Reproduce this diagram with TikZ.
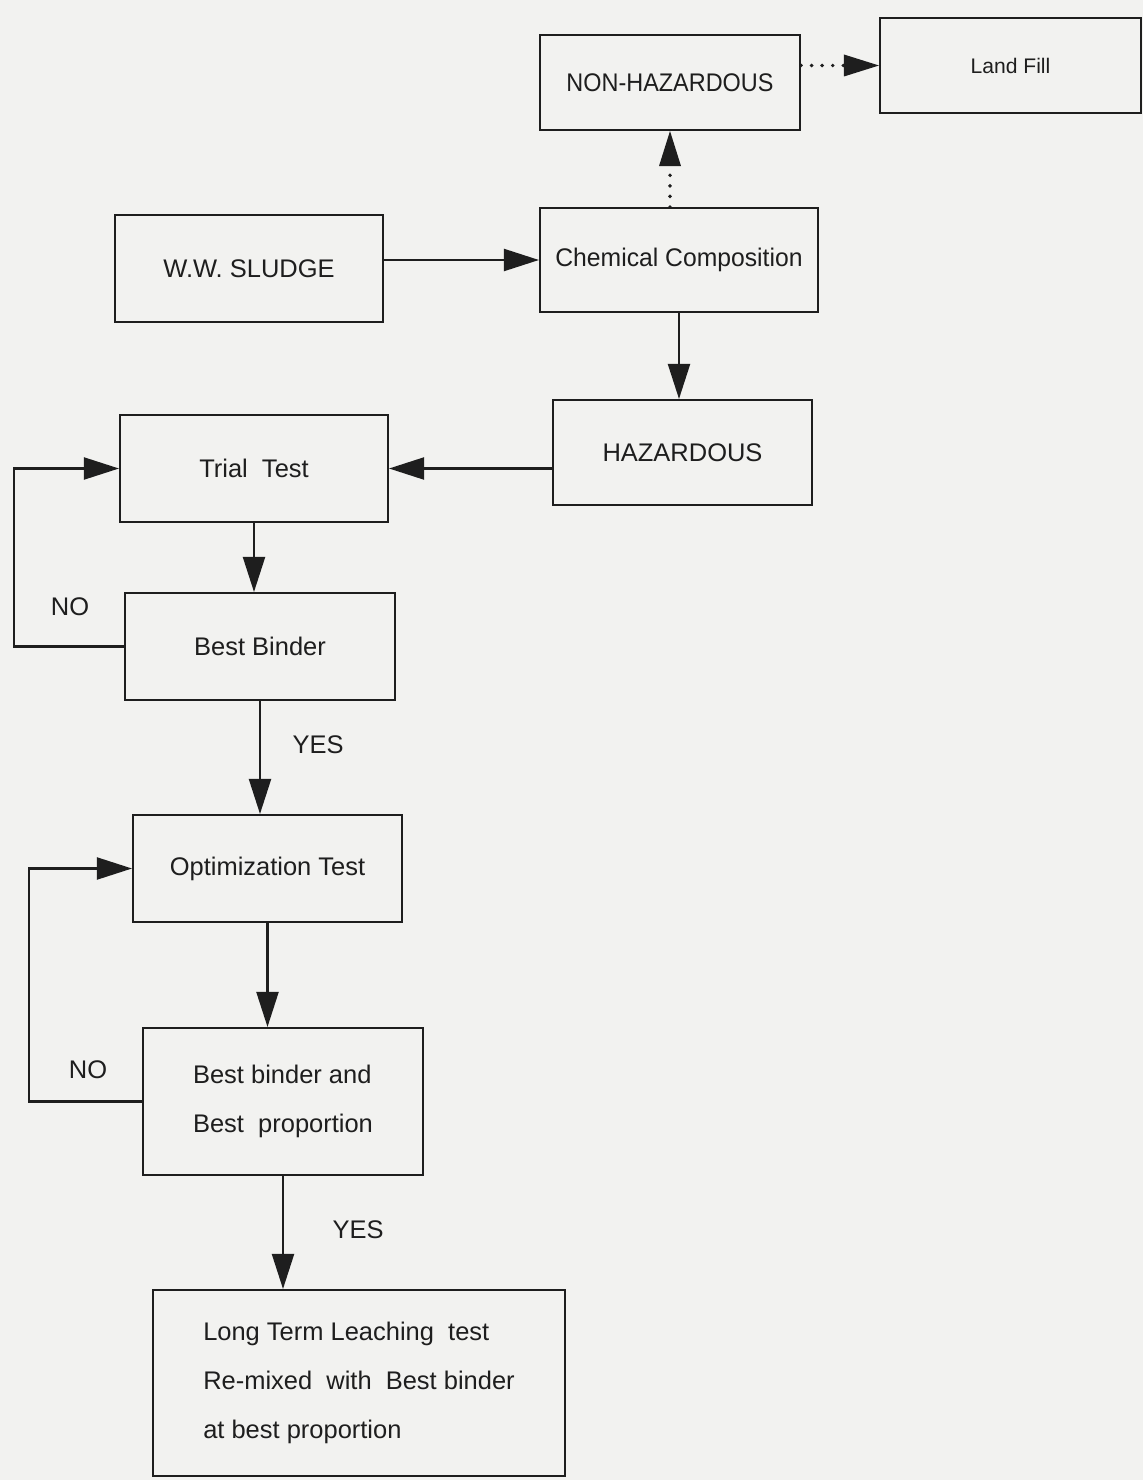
\documentclass[tikz,border=0pt]{standalone}
\usepackage{fontspec}
\setmainfont{Liberation Sans}
\usetikzlibrary{arrows.meta}
\definecolor{paper}{RGB}{242,242,240}
\definecolor{ink}{RGB}{30,30,30}
\begin{document}
\begin{tikzpicture}[x=0.02cm,y=-0.02cm,
  box/.style={draw=ink,line width=1.2pt,inner sep=0pt,rectangle,font=\fontsize{14.5}{28}\selectfont,text=ink},
  arr/.style={draw=ink,line width=1.2pt,-{Triangle[length=0.7cm,width=0.44cm]}},
  dotarr/.style={draw=ink,line width=2.2pt,dash pattern=on 0pt off 6pt,line cap=round,-{Triangle[length=0.7cm,width=0.44cm,line width=0pt]}},
  lbl/.style={font=\fontsize{14.5}{16}\selectfont,text=ink}]
\fill[paper] (0,0) rectangle (1143,1480);
\useasboundingbox (0,0) rectangle (1143,1480);
% boxes
\node[box,minimum width=260*0.02cm,minimum height=95*0.02cm] (nonhaz) at (670,82.5) {\scalebox{0.92}[1]{NON-HAZARDOUS}};
\node[box,minimum width=261*0.02cm,minimum height=95*0.02cm,font=\fontsize{12}{14}\selectfont] (landfill) at (1010.5,65.5) {Land Fill};
\node[box,minimum width=278*0.02cm,minimum height=104*0.02cm] (chem) at (679,260) {\scalebox{0.97}[1]{Chemical Composition}};
\node[box,minimum width=268*0.02cm,minimum height=107*0.02cm] (ww) at (249,268.5) {W.W. SLUDGE};
\node[box,minimum width=259*0.02cm,minimum height=105*0.02cm] (haz) at (682.5,452.5) {HAZARDOUS};
\node[box,minimum width=268*0.02cm,minimum height=107*0.02cm] (trial) at (254,468.5) {Trial\ \ Test};
\node[box,minimum width=270*0.02cm,minimum height=107*0.02cm] (best) at (260,646.5) {Best Binder};
\node[box,minimum width=269*0.02cm,minimum height=107*0.02cm] (opt) at (267.5,868.5) {Optimization Test};
\node[box,minimum width=280*0.02cm,minimum height=147*0.02cm,align=left] (bb) at (283,1101.5) {Best binder and\\Best\ \ proportion};
\node[box,minimum width=412*0.02cm,minimum height=186*0.02cm,align=left] (long) at (359,1383) {Long Term Leaching\ \ test\\Re-mixed\ \ with\ \ Best binder\\at best proportion};
% connectors
\draw[arr] (ww.east |- chem.west) -- (chem.west);
\draw[dotarr] (chem.north -| nonhaz.south) -- (nonhaz.south);
\draw[dotarr] (nonhaz.east |- landfill.west) -- (landfill.west);
\draw[arr] (chem.south) -- (chem.south |- haz.north);
\draw[arr] (haz.west |- trial.east) -- (trial.east);
\draw[arr] (trial.south) -- (trial.south |- best.north);
\draw[arr] (best.west) -- ++(-110,0) |- (trial.west);
\draw[arr] (best.south) -- (best.south |- opt.north);
\draw[arr] (opt.south) -- (opt.south |- bb.north);
\draw[arr] (bb.west) -- ++(-113,0) |- (opt.west);
\draw[arr] (bb.south) -- (bb.south |- long.north);
% labels
\node[lbl] (no1) at (70,607) {NO};
\node[lbl] (yes1) at (318,745) {YES};
\node[lbl] (no2) at (88,1070) {NO};
\node[lbl] (yes2) at (358,1230) {YES};
\end{tikzpicture}
\end{document}
